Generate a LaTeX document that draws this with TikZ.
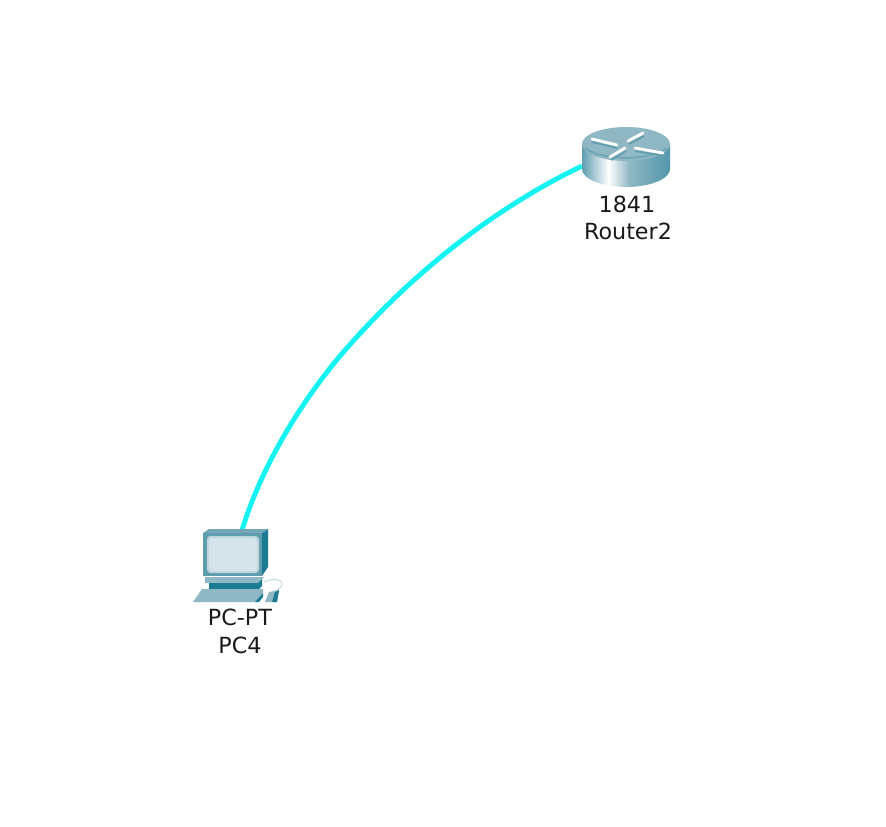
\documentclass[tikz,border=0pt]{standalone}
\usepackage{fontspec}
\setmainfont{DejaVu Sans}
\definecolor{cablecolor}{HTML}{14F2F2}
\definecolor{devlight}{HTML}{8FB7C4}
\definecolor{devmid}{HTML}{5F9DAF}
\definecolor{devdark}{HTML}{1B7B92}
\definecolor{screencolor}{HTML}{D5E3EA}
\pgfdeclarehorizontalshading{routerside}{100bp}{color(0bp)=(devmid); color(25bp)=(devmid); color(40bp)=(white); color(52bp)=(devlight); color(70bp)=(devmid); color(100bp)=(devdark)}
\tikzset{
  device/.style={inner sep=0pt, minimum width=68pt, minimum height=42pt},
  devlabel/.style={inner sep=0pt, font=\fontsize{19}{19}\selectfont, text=black!90},
  cable/.style={cablecolor, line width=4.2pt},
  routermark/.style={white, line width=2.4pt, line cap=round}
}
\begin{document}
\begin{tikzpicture}[x=.03cm,y=-.03cm]
  \useasboundingbox (0,0) rectangle (886,826);
  \node [device] (pc) at (242,555) {};
  \node [device] (router) at (622,166) {};
  \draw [cable] (pc.north) .. controls (262,465) and (300,405) .. (335,362)
                           .. controls (395,290) and (480,215) .. (router.west);
  % router
  \shade [shading=routerside] (582,144) -- (582,169) arc [start angle=180, end angle=0, x radius=44, y radius=18] -- (670,144) -- cycle;
  \fill [devlight] (626,144) ellipse [x radius=44, y radius=17];
  \draw [devmid!70!devlight, line width=1.5pt] (585,148) .. controls (600,161) and (652,161) .. (667,148);
  \draw [devmid, line width=1.4pt] (592,142) -- (617,148) (611,160) -- (626,151)
                                  (629,144) -- (644,136) (635,151) -- (663,156);
  \draw [routermark] (592,139) -- (617,145);
  \draw [routermark] (610,157) -- (625,148);
  \draw [routermark] (628,141) -- (643,133);
  \draw [routermark] (635,148) -- (663,153);
  % pc
  \fill [devdark] (262,533) -- (268,529) -- (268,567) -- (262,576) -- cycle;
  \fill [devmid!60!devlight] (203,533) -- (209,529) -- (268,529) -- (262,533) -- cycle;
  \fill [devmid] (203,533) rectangle (262,576);
  \fill [screencolor!70!devlight, rounded corners=3pt] (207,536) rectangle (259,573);
  \fill [screencolor, rounded corners=3pt] (209,538) rectangle (257,571);
  \fill [devlight] (205,577) -- (264,577) -- (258,583) -- (205,583) -- cycle;
  \fill [devdark] (209,583) -- (258,583) -- (262,579) -- (262,586) -- (258,590) -- (209,590) -- cycle;
  \fill [devlight] (193,602) -- (202,589) -- (263,589) -- (263,593) -- (255,602) -- cycle;
  \fill [devdark] (255,602) -- (263,593) -- (263,597) -- (259,602) -- cycle;
  \fill [devlight] (265,602) -- (269,592) -- (279,590) -- (277,602) -- cycle;
  \fill [devdark] (272,602) -- (275,592) -- (279,590) -- (277,602) -- cycle;
  \draw [devlight!50!white, line width=1pt] (264,582) .. controls (275,577) and (283,580) .. (282,585) .. controls (281,588) and (277,590) .. (274,591);
  % labels
  \node [devlabel] (routermodel) at (627,204) {1841};
  \node [devlabel] (routername) at (628,231) {Router2};
  \node [devlabel] (pcmodel) at (240,617) {PC-PT};
  \node [devlabel] (pcname) at (240,645) {PC4};
\end{tikzpicture}
\end{document}
